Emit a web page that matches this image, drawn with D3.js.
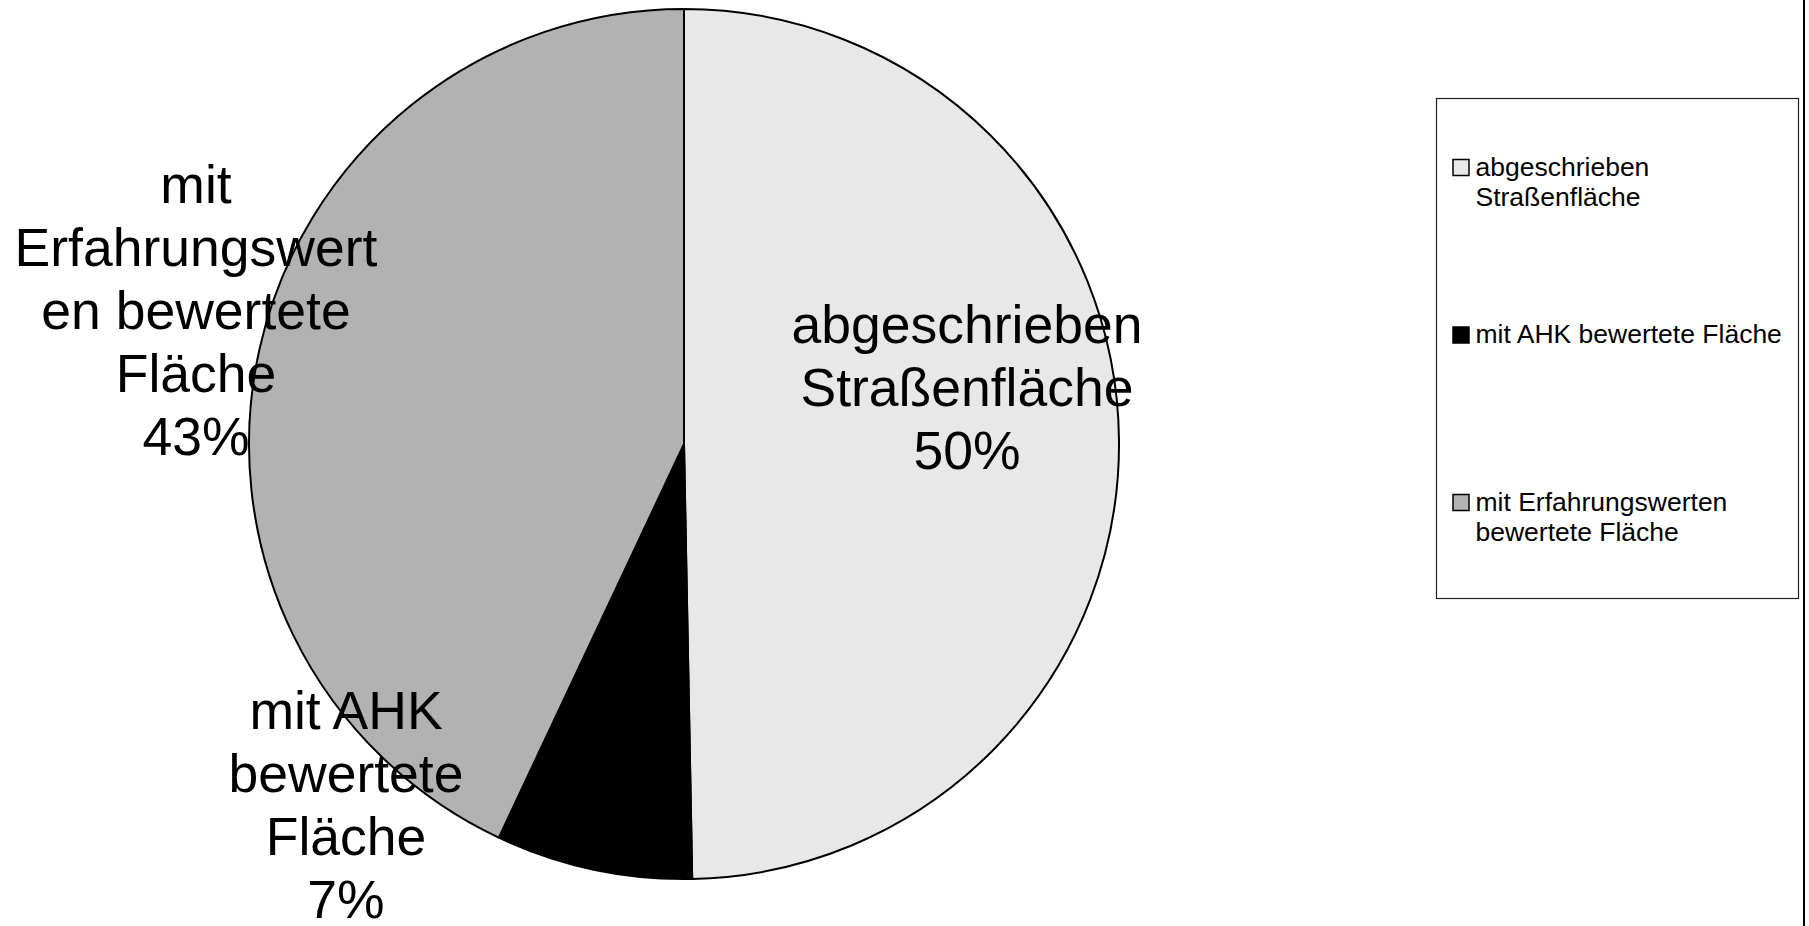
<!DOCTYPE html>
<html>
<head>
<meta charset="utf-8">
<script src="https://cdn.jsdelivr.net/npm/d3@7"></script>
<style>
  html, body { margin: 0; padding: 0; background: #fff; }
  svg { display: block; font-family: "Liberation Sans", Arial, sans-serif; }
</style>
</head>
<body>
<div id="chart-area"></div>
<script>
// Data
var categories = ["abgeschrieben Straßenfläche", "mit AHK bewertete Fläche", "mit Erfahrungswerten bewertete Fläche"];
var values = [49.7, 7.3, 43.0];
var sliceLabels = [
    ["abgeschrieben", "Straßenfläche"],
    ["mit AHK", "bewertete", "Fläche"],
    ["mit", "Erfahrungswert", "en bewertete", "Fläche"]
];
var legendLabels = [
    ["abgeschrieben", "Straßenfläche"],
    ["mit AHK bewertete Fläche"],
    ["mit Erfahrungswerten", "bewertete Fläche"]
];
var colors = ["#e8e8e8", "#000000", "#b2b2b2"];

var width = 1809, height = 926;
var cx = 684, cy = 444, radius = 435;

// label anchors (first baseline) relative to pie centre
var labelOffsets = [[283, -101], [-338, 285], [-488, -241]];

var svg = d3.select("#chart-area")
    .append("svg")
        .attr("width", width)
        .attr("height", height);

var g = svg.append("g")
    .attr("transform", "translate(" + cx + "," + cy + ")");

var pie = d3.pie().sort(null).value(function(d){ return d; });
var arc = d3.arc().innerRadius(0).outerRadius(radius);
var total = d3.sum(values);
var pct = d3.format(".0%");

var arcs = pie(values);

g.selectAll("path.slice")
    .data(arcs)
    .enter().append("path")
        .attr("class", "slice")
        .attr("d", arc)
        .attr("fill", function(d, i){ return colors[i]; })
        .attr("stroke", "#000")
        .attr("stroke-width", 2)
        .attr("stroke-linejoin", "round");

// Slice labels
var lh = 63;
arcs.forEach(function(d, i){
    var lines = sliceLabels[i].concat([pct(values[i] / total)]);
    var t = g.append("text")
        .attr("x", labelOffsets[i][0])
        .attr("y", labelOffsets[i][1])
        .attr("text-anchor", "middle")
        .attr("font-size", "53.5px")
        .attr("fill", "#000");
    lines.forEach(function(line, j){
        t.append("tspan")
            .attr("x", labelOffsets[i][0])
            .attr("y", labelOffsets[i][1] + j * lh)
            .text(line);
    });
});

// Legend
var legend = svg.append("g")
    .attr("transform", "translate(1436.5,98.5)");

legend.append("rect")
    .attr("width", 362)
    .attr("height", 500)
    .attr("fill", "#fff")
    .attr("stroke", "#222")
    .attr("stroke-width", 1.2);

categories.forEach(function(cat, i){
    var row = legend.append("g")
        .attr("transform", "translate(0," + (i * 167.5) + ")");
    row.append("rect")
        .attr("x", 16.5)
        .attr("y", 61)
        .attr("width", 16)
        .attr("height", 16)
        .attr("fill", colors[i])
        .attr("stroke", "#000")
        .attr("stroke-width", 1.5);
    var t = row.append("text")
        .attr("font-size", "26.5px")
        .attr("fill", "#000");
    legendLabels[i].forEach(function(line, j){
        t.append("tspan")
            .attr("x", 39)
            .attr("y", 77 + j * 30)
            .text(line);
    });
});

// right frame line
svg.append("line")
    .attr("x1", 1804).attr("x2", 1804)
    .attr("y1", 0).attr("y2", height)
    .attr("stroke", "#000")
    .attr("stroke-width", 2);
</script>
</body>
</html>
